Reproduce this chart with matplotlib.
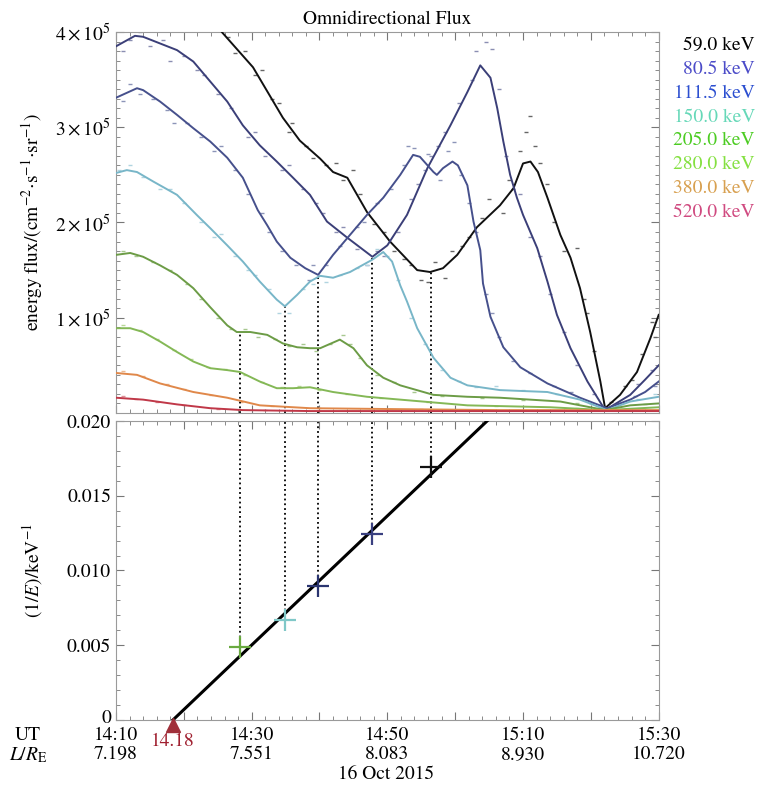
import matplotlib.pyplot as plt
from matplotlib.ticker import FixedLocator, MultipleLocator
from matplotlib.transforms import blended_transform_factory, offset_copy, ScaledTranslation

plt.rcParams["font.family"] = "STIXGeneral"
plt.rcParams["mathtext.fontset"] = "stix"
plt.rcParams["font.size"] = 14

# -----------------------------
# Data (time in minutes after 14:10 UT, flux in units of 1e5)
# -----------------------------
# smoothed curves
t_59 = [12.0, 15.6, 20.2, 24.6, 27.1, 30.1, 32.0, 34.1, 37.0, 40.4, 44.4, 46.3, 48.2, 50.3,
        53.2, 56.6, 58.6, 60.0, 61.1, 62.2, 63.6, 65.5, 67.0, 68.4, 69.9, 71.4, 72.1, 74.3,
        76.8, 78.8, 80.0]
f_59 = [4.30, 4.00, 3.63, 3.10, 2.86, 2.67, 2.53, 2.47, 2.11, 1.80, 1.50, 1.48, 1.52, 1.66,
        1.95, 2.18, 2.36, 2.62, 2.64, 2.53, 2.26, 1.87, 1.63, 1.31, 0.85, 0.33, 0.05, 0.19,
        0.43, 0.79, 1.03]

t_80 = [0.0, 2.8, 4.0, 6.5, 9.0, 11.4, 13.9, 16.4, 18.7, 21.2, 23.7, 26.1, 28.6, 31.1, 34.1,
        37.8, 40.0, 42.9, 45.9, 49.3, 51.8, 53.7, 55.2, 56.2, 57.1, 58.1, 59.1, 60.0, 62.1,
        63.6, 65.0, 67.0, 69.5, 72.1, 75.8, 78.0, 80.0]
f_80 = [3.85, 3.96, 3.95, 3.88, 3.81, 3.69, 3.48, 3.27, 3.02, 2.81, 2.64, 2.47, 2.29, 2.01,
        1.84, 1.64, 1.76, 2.08, 2.57, 3.02, 3.37, 3.65, 3.52, 3.20, 2.85, 2.50, 2.26, 2.08,
        1.73, 1.38, 1.03, 0.68, 0.33, 0.03, 0.19, 0.35, 0.50]

t_111 = [0.0, 3.1, 4.0, 6.5, 9.0, 11.4, 13.9, 16.4, 18.7, 20.9, 22.3, 23.7, 25.7, 27.9, 29.8,
         32.0, 34.5, 37.0, 39.4, 41.9, 43.8, 44.8, 46.8, 47.3, 48.2, 49.6, 50.4, 51.8, 52.7,
         53.7, 54.1, 55.2, 57.1, 59.6, 63.6, 68.4, 72.4, 75.8, 78.0, 80.0]
f_111 = [3.31, 3.41, 3.39, 3.27, 3.13, 2.99, 2.85, 2.68, 2.47, 2.13, 1.97, 1.80, 1.63, 1.52,
         1.45, 1.66, 1.87, 2.08, 2.26, 2.50, 2.71, 2.69, 2.53, 2.50, 2.57, 2.64, 2.60, 2.39,
         2.01, 1.71, 1.36, 1.01, 0.69, 0.48, 0.31, 0.16, 0.05, 0.14, 0.22, 0.33]

t_150 = [0.0, 1.6, 3.1, 5.5, 9.0, 11.9, 13.9, 16.4, 18.7, 21.2, 23.7, 24.9, 26.7, 28.6, 30.1,
         32.0, 34.5, 37.8, 39.4, 40.7, 41.9, 42.9, 44.4, 46.8, 49.3, 51.8, 56.6, 63.6, 68.4,
         72.4, 75.8, 80.0]
f_150 = [2.52, 2.55, 2.53, 2.43, 2.29, 2.08, 1.94, 1.76, 1.59, 1.38, 1.19, 1.12, 1.24, 1.38,
         1.44, 1.42, 1.48, 1.61, 1.69, 1.59, 1.34, 1.17, 0.89, 0.58, 0.37, 0.29, 0.24, 0.22,
         0.14, 0.03, 0.12, 0.17]

t_205 = [0.0, 2.1, 4.0, 6.5, 9.0, 11.4, 13.9, 16.4, 17.8, 19.8, 22.3, 24.6, 26.7, 28.6, 30.1,
         33.0, 35.0, 37.0, 39.4, 41.9, 46.8, 51.8, 56.6, 65.5, 72.1, 75.8, 80.0]
f_205 = [1.66, 1.68, 1.64, 1.55, 1.45, 1.31, 1.11, 0.92, 0.85, 0.85, 0.82, 0.73, 0.69, 0.68,
         0.68, 0.77, 0.68, 0.50, 0.37, 0.29, 0.19, 0.17, 0.16, 0.12, 0.03, 0.08, 0.10]

t_280 = [0.0, 2.1, 4.0, 6.5, 9.0, 11.4, 13.9, 16.4, 18.3, 21.2, 23.7, 26.1, 28.6, 32.0, 37.0,
         41.9, 51.8, 64.0, 72.1, 80.0]
f_280 = [0.89, 0.89, 0.85, 0.75, 0.64, 0.54, 0.47, 0.45, 0.43, 0.33, 0.26, 0.26, 0.27, 0.22,
         0.17, 0.14, 0.08, 0.06, 0.03, 0.06]

t_380 = [0.0, 3.1, 6.5, 11.4, 16.4, 21.2, 28.6, 41.9, 56.6, 80.0]
f_380 = [0.42, 0.40, 0.31, 0.22, 0.16, 0.08, 0.05, 0.04, 0.03, 0.03]

t_520 = [0.0, 4.0, 9.0, 13.9, 18.7, 28.6, 80.0]
f_520 = [0.16, 0.14, 0.09, 0.05, 0.03, 0.02, 0.02]

# raw samples (scattered dashes around the smoothed curves)
raw_t_59 = [15.0, 16.5, 17.5, 19.0, 20.5, 21.5, 23.0, 24.0, 25.5, 26.0, 28.0, 29.0, 31.0, 32.5,
            33.5, 35.0, 36.0, 38.0, 39.5, 41.0, 42.5, 43.5, 45.0, 46.0, 47.0, 48.5, 49.5, 51.0,
            52.0, 54.0, 55.0, 57.0, 58.0, 59.5, 60.5, 61.0, 61.8, 62.5, 63.5, 64.5, 66.0, 68.0,
            69.0, 69.5, 70.5, 73.0, 75.0, 76.0, 77.5, 79.0, 79.5]
raw_f_59 = [4.05, 3.95, 3.78, 3.80, 3.55, 3.60, 3.30, 3.25, 2.95, 3.05, 2.80, 2.68, 2.60, 2.62,
            2.45, 2.55, 2.30, 1.98, 1.90, 1.70, 1.62, 1.55, 1.40, 1.38, 1.58, 1.42, 1.70, 1.75,
            1.85, 2.05, 2.25, 2.10, 2.45, 2.75, 2.95, 3.12, 2.80, 2.62, 2.40, 2.00, 1.70, 1.73,
            1.20, 1.05, 0.65, 0.12, 0.28, 0.35, 0.62, 0.95, 0.80]

raw_t_80 = [1.0, 2.0, 3.5, 5.0, 7.0, 8.0, 10.0, 12.0, 13.0, 15.0, 17.0, 19.5, 20.5, 22.0, 24.5,
            25.5, 27.5, 29.5, 30.5, 32.5, 33.5, 35.5, 37.0, 38.5, 39.5, 41.5, 43.5, 44.5, 46.5,
            47.5, 48.5, 50.5, 52.5, 53.0, 54.5, 55.5, 56.5, 57.5, 58.5, 59.5, 61.0, 62.5, 64.0,
            66.0, 68.0, 70.5, 74.0, 77.0, 79.0]
raw_f_80 = [3.80, 3.92, 4.00, 3.85, 3.92, 3.70, 3.75, 3.60, 3.55, 3.35, 3.20, 2.90, 2.95, 2.70,
            2.55, 2.60, 2.35, 2.20, 2.10, 1.90, 1.95, 1.72, 1.55, 1.70, 1.65, 1.90, 2.25, 2.40,
            2.70, 2.80, 2.95, 3.25, 3.50, 3.80, 3.90, 3.82, 3.40, 2.70, 2.35, 2.30, 1.85, 1.65,
            1.25, 0.85, 0.50, 0.20, 0.10, 0.30, 0.45]

raw_t_111 = [1.0, 2.0, 3.5, 5.5, 7.5, 8.5, 10.5, 12.5, 14.5, 15.5, 17.5, 19.5, 21.5, 22.5, 24.5,
             26.5, 28.5, 29.0, 31.0, 33.0, 35.5, 36.5, 38.5, 40.5, 42.5, 43.0, 44.0, 45.5, 46.0,
             47.8, 49.0, 49.8, 50.8, 52.0, 53.0, 54.5, 55.5, 56.5, 58.5, 61.0, 64.5, 67.0, 70.0,
             76.5, 79.5]
raw_f_111 = [3.28, 3.45, 3.35, 3.30, 3.18, 3.05, 3.05, 2.90, 2.75, 2.80, 2.55, 2.30, 2.10, 1.90,
             1.70, 1.55, 1.40, 1.55, 1.55, 1.75, 1.95, 2.00, 2.20, 2.35, 2.60, 2.80, 2.78, 2.55,
             2.72, 2.45, 2.75, 2.85, 2.50, 2.20, 1.90, 1.25, 1.05, 0.80, 0.55, 0.42, 0.28, 0.22,
             0.10, 0.18, 0.28]

raw_t_150 = [0.5, 2.0, 4.0, 6.5, 8.0, 10.0, 12.5, 14.5, 15.5, 17.5, 19.5, 20.5, 22.5, 24.0, 25.5,
             27.5, 29.0, 31.0, 33.0, 35.5, 37.0, 38.5, 40.0, 41.5, 43.5, 45.5, 48.0, 50.5, 53.0,
             56.0, 60.0, 65.0, 70.0, 77.0, 79.5]
raw_f_150 = [2.55, 2.60, 2.48, 2.35, 2.35, 2.20, 2.00, 1.85, 1.88, 1.65, 1.50, 1.45, 1.30, 1.05,
             1.05, 1.30, 1.35, 1.38, 1.45, 1.52, 1.55, 1.72, 1.65, 1.40, 1.00, 0.72, 0.45, 0.34,
             0.27, 0.28, 0.24, 0.20, 0.10, 0.15, 0.20]

raw_t_205 = [1.0, 3.0, 5.5, 8.0, 10.5, 12.5, 15.0, 17.0, 19.0, 21.0, 23.5, 25.5, 27.5, 29.5, 31.5,
             33.5, 34.5, 36.0, 38.5, 41.0, 44.0, 48.0, 54.0, 60.0, 68.0, 78.0]
raw_f_205 = [1.70, 1.65, 1.58, 1.50, 1.35, 1.20, 1.00, 0.88, 0.88, 0.80, 0.78, 0.70, 0.72, 0.65,
             0.72, 0.82, 0.72, 0.58, 0.40, 0.32, 0.22, 0.18, 0.16, 0.14, 0.10, 0.09]

raw_t_280 = [1.0, 3.5, 6.0, 8.5, 11.0, 13.5, 16.0, 19.0, 21.5, 24.5, 27.0, 30.0, 34.0, 39.0, 46.0,
             56.0, 68.0]
raw_f_280 = [0.92, 0.87, 0.78, 0.66, 0.57, 0.48, 0.46, 0.40, 0.32, 0.27, 0.28, 0.24, 0.20, 0.16,
             0.11, 0.07, 0.05]

raw_t_380 = [1.0, 4.0, 7.5, 10.0, 14.0, 18.5, 23.0, 30.0, 45.0]
raw_f_380 = [0.44, 0.39, 0.30, 0.25, 0.19, 0.12, 0.07, 0.05, 0.04]

raw_t_520 = [1.0, 3.0, 6.0, 10.0, 15.0, 22.0]
raw_f_520 = [0.18, 0.15, 0.12, 0.08, 0.04, 0.03]

energies = ["59.0", "80.5", "111.5", "150.0", "205.0", "280.0", "380.0", "520.0"]
line_colors = ["#111111", "#3b3f78", "#46508c", "#78b6c8", "#6c9c46", "#84b856", "#e0884a", "#c03848"]
raw_colors = ["#666666", "#8a8eb2", "#8c94b8", "#b0d4e0", "#a8c890", "#b8d898", "#ecb890", "#dc9098"]
label_colors = ["#000000", "#4b4bc8", "#2c4fd0", "#66d8b8", "#4ccc22", "#84e040", "#d8a050", "#d04a80"]

# dispersion points: time of flux minimum, flux there, 1/E
disp_t = [18.3, 24.9, 29.8, 37.8, 46.5]
disp_flux = [0.84, 1.12, 1.45, 1.64, 1.48]
disp_inv_e = [1 / 205.0, 1 / 150.0, 1 / 111.5, 1 / 80.5, 1 / 59.0]
disp_colors = ["#6aaa40", "#80c8c8", "#2a3570", "#3a4080", "#111111"]

# linear fit line (injection at 14:18)
fit_t = [8.4, 54.7]
fit_y = [0.0, 0.020]

tick_times = [0, 20, 40, 60, 80]
tick_ut = ["14:10", "14:30", "14:50", "15:10", "15:30"]
tick_l = ["7.198", "7.551", "8.083", "8.930", "10.720"]

# -----------------------------
# Figure
# -----------------------------
fig = plt.figure(figsize=(7.58, 7.89), dpi=100)
ax1 = fig.add_axes([0.153, 0.4766, 0.716, 0.4828])
ax2 = fig.add_axes([0.153, 0.0875, 0.716, 0.3789])

curves = [(t_59, f_59), (t_80, f_80), (t_111, f_111), (t_150, f_150),
          (t_205, f_205), (t_280, f_280), (t_380, f_380), (t_520, f_520)]
raws = [(raw_t_59, raw_f_59), (raw_t_80, raw_f_80), (raw_t_111, raw_f_111), (raw_t_150, raw_f_150),
        (raw_t_205, raw_f_205), (raw_t_280, raw_f_280), (raw_t_380, raw_f_380), (raw_t_520, raw_f_520)]

for (t, f), c in zip(raws, raw_colors):
    ax1.plot(t, [v * 1e5 for v in f], ls="none", marker="_", ms=3.5, mew=1.0, color=c, zorder=2)
for (t, f), c in zip(curves, line_colors):
    ax1.plot(t, [v * 1e5 for v in f], color=c, lw=1.4, zorder=3)

for t, f in zip(disp_t, disp_flux):
    ax1.plot([t, t], [0, f * 1e5], color="black", ls=":", lw=1.3, zorder=2)

ax1.set_xlim(0, 80)
ax1.set_ylim(0, 4e5)
ax1.yaxis.set_major_locator(FixedLocator([1e5, 2e5, 3e5, 4e5]))
ax1.set_yticklabels([r"$1\times10^5$", r"$2\times10^5$", r"$3\times10^5$", r"$4\times10^5$"])
ax1.yaxis.set_minor_locator(MultipleLocator(1e4))
ax1.xaxis.set_major_locator(MultipleLocator(10))
ax1.xaxis.set_minor_locator(MultipleLocator(2))
ax1.set_xticklabels([])
ax1.set_ylabel(r"energy flux/(cm$^{-2}$$\cdot$s$^{-1}$$\cdot$sr$^{-1}$)", fontsize=14)
ax1.yaxis.set_label_coords(-0.13, 0.5)
ax1.set_title("Omnidirectional Flux", fontsize=14, pad=6)

for i, (e, c) in enumerate(zip(energies, label_colors)):
    fig.text(0.996, 0.943 - i * 0.0304, e + " keV", color=c, ha="right", va="center", fontsize=14)

# bottom panel
ax2.plot(fit_t, fit_y, color="black", lw=2.2, zorder=3)
for t, y, c in zip(disp_t, disp_inv_e, disp_colors):
    ax2.plot([t, t], [y, 0.020], color="black", ls=":", lw=1.3, zorder=2)
    ax2.plot(t, y, marker="+", color=c, ms=16, mew=1.6, zorder=4)
tri_tr = offset_copy(ax2.transData, fig=fig, x=0, y=-5, units="dots")
ax2.plot(fit_t[0], 0, marker="^", color="#a0303a", ms=10, clip_on=False, zorder=5, transform=tri_tr)

ax2.set_xlim(0, 80)
ax2.set_ylim(0, 0.020)
ax2.yaxis.set_major_locator(FixedLocator([0, 0.005, 0.010, 0.015, 0.020]))
ax2.set_yticklabels(["0", "0.005", "0.010", "0.015", "0.020"])
ax2.yaxis.set_minor_locator(MultipleLocator(0.001))
ax2.xaxis.set_major_locator(MultipleLocator(10))
ax2.xaxis.set_minor_locator(MultipleLocator(2))
ax2.set_xticklabels([])
ax2.set_ylabel(r"(1/$E$)/keV$^{-1}$", fontsize=14)
ax2.yaxis.set_label_coords(-0.13, 0.5)

for ax in (ax1, ax2):
    ax.tick_params(which="both", direction="in", top=True, right=True, labelsize=14, color="#777777")
    ax.tick_params(which="major", length=6)
    ax.tick_params(which="minor", length=3)
    for s in ax.spines.values():
        s.set_color("#9a9a9a")

# the "0" label sits a little above the axis line, as in the original
zero_lbl = ax2.get_yticklabels()[0]
zero_lbl.set_transform(zero_lbl.get_transform() + ScaledTranslation(0, 4 / 100, fig.dpi_scale_trans))

# time / L-shell labels under the bottom panel
row_tr = blended_transform_factory(ax2.transData, fig.transFigure)
for t, u, l in zip(tick_times, tick_ut, tick_l):
    fig.text(t, 0.068, u, transform=row_tr, ha="center", va="center", fontsize=14)
    fig.text(t, 0.0435, l, transform=row_tr, ha="center", va="center", fontsize=14)
fig.text(0.037, 0.068, "UT", ha="center", va="center", fontsize=14)
fig.text(0.037, 0.0435, r"$L/R_{\rm E}$", ha="center", va="center", fontsize=14)
fig.text(fit_t[0], 0.060, "14.18", transform=row_tr, color="#a02030", ha="center", va="center", fontsize=14)
fig.text(0.509, 0.018, "16 Oct 2015", ha="center", va="center", fontsize=14)

plt.savefig("out.png", dpi=100)
plt.close()
print("Saved: out.png")
